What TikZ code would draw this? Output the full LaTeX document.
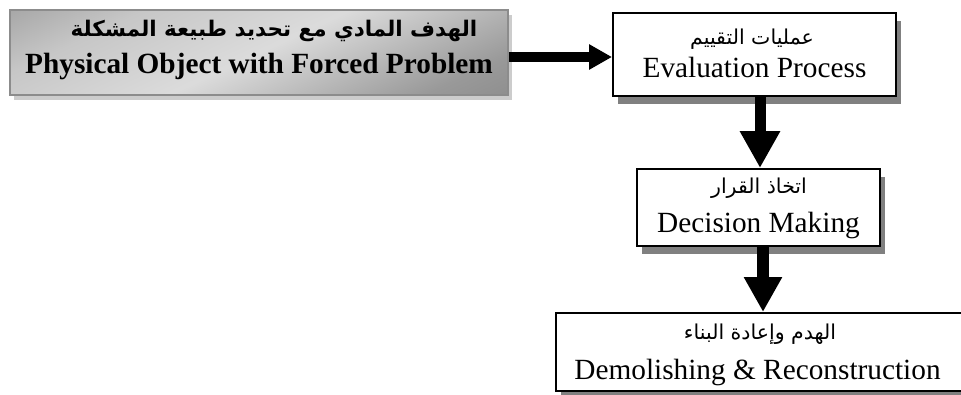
\documentclass[tikz,border=0pt]{standalone}
\usepackage{fontspec}
\setmainfont{Liberation Serif}
\newfontfamily\arabicfont[Script=Arabic]{DejaVu Sans}
\TeXXeTstate=1
\usetikzlibrary{arrows.meta,shadows}

% light band running across the title box
\pgfdeclareverticalshading{steelbar}{100bp}{%
  color(0bp)=(black!52); color(25bp)=(black!40); color(50bp)=(black!14);
  color(70bp)=(black!22); color(100bp)=(black!50)}

\tikzset{
  titlebox/.style={draw=black!45, line width=2pt, shading=steelbar, shading angle=25,
    minimum width=498pt, minimum height=85pt, inner sep=0pt,
    drop shadow={shadow xshift=4pt, shadow yshift=-5pt, fill=black!20, opacity=1}},
  stagebox/.style={draw=black, fill=white, line width=2pt, inner sep=0pt,
    drop shadow={shadow xshift=5pt, shadow yshift=-8pt, fill=black!50, opacity=1}},
  entext/.style={anchor=base, inner sep=0pt, font=\fontsize{29.3}{32}\selectfont},
  enbold/.style={entext, font=\bfseries\fontsize{29.3}{32}\selectfont},
  artext/.style={anchor=base, inner sep=0pt, font=\arabicfont\fontsize{20.5}{22}\selectfont},
  arbold/.style={anchor=base, inner sep=0pt, font=\arabicfont\bfseries\fontsize{21.5}{23}\selectfont}
}

\begin{document}
\begin{tikzpicture}[x=1pt, y=-1pt]
\useasboundingbox (0,0) rectangle (961,394);
\clip (0,0) rectangle (961,394);

% boxes
\node[titlebox] (goal) at (259,52.5) {};
\node[stagebox, minimum width=283pt, minimum height=83pt] (eval) at (754.5,54.5) {};
\node[stagebox, minimum width=243pt, minimum height=77pt] (decide) at (758.5,207.5) {};
\node[stagebox, minimum width=407pt, minimum height=78pt] (rebuild) at (759.5,352) {};

% labels
\node[arbold] (goalar) at (274,36) {\beginR الهدف المادي مع تحديد طبيعة  المشكلة\endR};
\node[enbold] (goalen) at (259,73) {Physical Object with Forced Problem};

\node[artext] (evalar) at (752,44) {\beginR عمليات التقييم\endR};
\node[entext] (evalen) at (754.5,77) {Evaluation Process};

\node[artext] (decidear) at (759,193) {\beginR اتخاذ القرار\endR};
\node[entext] (decideen) at (758.5,232) {Decision Making};

\node[artext] (rebuildar) at (760,339) {\beginR الهدم وإعادة البناء\endR};
\node[entext] (rebuilden) at (757.5,379) {Demolishing \& Reconstruction};

% connectors
\draw[line width=10pt, -{Triangle[length=23pt, width=24pt]}]
  ([yshift=-4.5pt]goal.east) -- ([yshift=-2.5pt]eval.west);
\draw[line width=11pt, -{Triangle[length=37pt, width=38pt]}]
  ([xshift=5.5pt]eval.south) -- ([xshift=1.5pt]decide.north);
\draw[line width=12pt, -{Triangle[length=35pt, width=36pt]}]
  ([xshift=4.5pt]decide.south) -- ([xshift=3.5pt]rebuild.north);
\end{tikzpicture}
\end{document}
